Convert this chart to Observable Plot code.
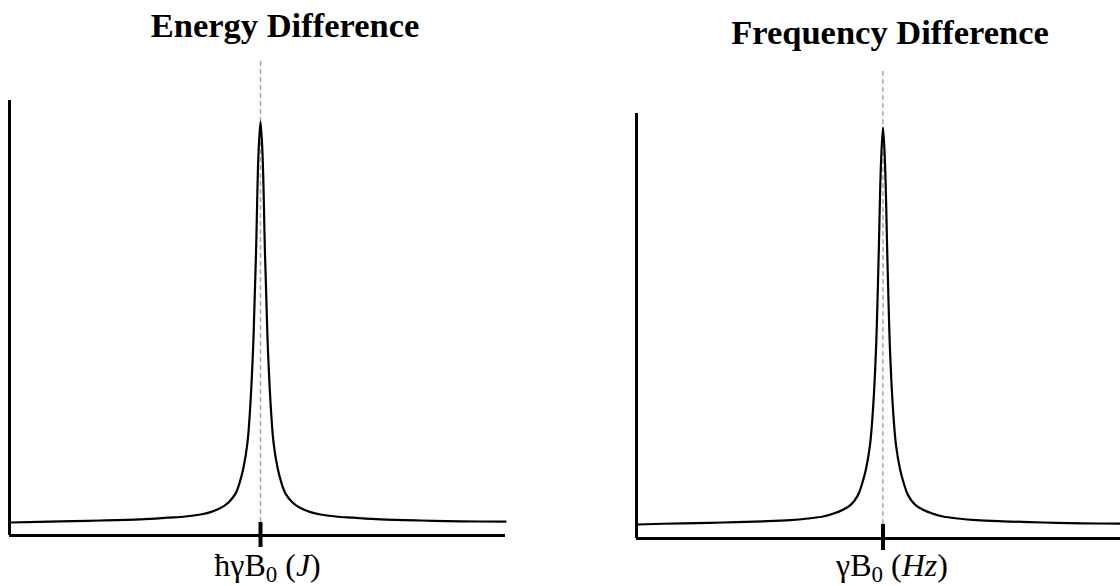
<!DOCTYPE html>
<html>
<head>
<meta charset="utf-8">
<script src="https://cdn.jsdelivr.net/npm/d3@7"></script>
<script src="https://cdn.jsdelivr.net/npm/@observablehq/plot@0.6"></script>
<style>
  html, body { margin: 0; padding: 0; background: #fff; }
  #wrap { position: relative; width: 1120px; height: 586px; overflow: hidden; background: #fff; }
  #wrap svg { position: absolute; top: 0; }
  .title { position: absolute; transform: translateX(-50%); white-space: nowrap;
           font-family: "Liberation Serif", "Times New Roman", serif; font-weight: bold;
           font-size: 34.5px; line-height: 34px; color: #000; }
</style>
</head>
<body>
<div id="wrap"></div>
<script>
// ---- data ----
const titles = ["Energy Difference", "Frequency Difference"];

// left panel: field offset (arbitrary units) and relative signal
const leftX = [-5.02, -4.0, -3.2, -2.4, -1.86, -1.5, -1.2, -1.0, -0.8, -0.64, -0.5, -0.42, -0.34, -0.26, -0.2, -0.14, -0.09, -0.04, 0,
               0.04, 0.09, 0.14, 0.2, 0.26, 0.34, 0.42, 0.5, 0.64, 0.8, 1.0, 1.2, 1.5, 1.86, 2.4, 3.2, 4.0, 4.9];
const leftY = [0.000, 0.003, 0.005, 0.008, 0.012, 0.015, 0.020, 0.026, 0.036, 0.050, 0.072, 0.098, 0.137, 0.200, 0.300, 0.460, 0.670, 0.920, 1.000,
               0.920, 0.670, 0.460, 0.300, 0.200, 0.137, 0.098, 0.072, 0.050, 0.036, 0.026, 0.020, 0.015, 0.012, 0.008, 0.005, 0.003, 0.002];

// right panel
const rightX = [-4.93, -4.0, -3.2, -2.4, -1.86, -1.5, -1.2, -1.0, -0.8, -0.64, -0.5, -0.42, -0.34, -0.26, -0.2, -0.14, -0.09, -0.04, 0,
                0.04, 0.09, 0.14, 0.2, 0.26, 0.34, 0.42, 0.5, 0.64, 0.8, 1.0, 1.2, 1.5, 1.86, 2.4, 3.2, 4.0, 4.75];
const rightY = [0.000, 0.003, 0.005, 0.008, 0.011, 0.015, 0.020, 0.027, 0.037, 0.050, 0.074, 0.102, 0.140, 0.200, 0.290, 0.440, 0.660, 0.910, 1.000,
                0.910, 0.660, 0.440, 0.290, 0.200, 0.140, 0.102, 0.074, 0.050, 0.037, 0.027, 0.020, 0.015, 0.011, 0.008, 0.005, 0.003, 0.002];

// tick labels (parts: main, subscript, open, italic unit, close)
const leftTickLabel = ["ħγB", "0", " (", "J", ")"];
const rightTickLabel = ["γB", "0", " (", "Hz", ")"];
const centerTick = [0];

// ---- scale setup ----
const panels = [
  { xs: leftX, ys: leftY, parts: leftTickLabel, title: titles[0],
    left: 0, xDomain: [-5.02, 4.9], yDomain: [-0.0324, 1.1546], yAxisTop: 1.0524,
    margins: { marginLeft: 9, marginRight: 55, marginTop: 59, marginBottom: 51 },
    tickPad: 6, labelDx: 7, titleX: 285, titleTop: 7.5 },
  { xs: rightX, ys: rightY, parts: rightTickLabel, title: titles[1],
    left: 560, xDomain: [-4.93, 4.75], yDomain: [-0.0353, 1.1486], yAxisTop: 1.0353,
    margins: { marginLeft: 76, marginRight: 0, marginTop: 68, marginBottom: 48 },
    tickPad: 3, labelDx: 9, titleX: 890, titleTop: 15 }
];

const wrap = document.getElementById("wrap");
const ns = "http://www.w3.org/2000/svg";

for (const p of panels) {
  const data = p.xs.map((x, i) => ({ x, y: p.ys[i] }));
  const svg = Plot.plot({
    width: 560, height: 586, ...p.margins,
    x: { domain: p.xDomain },
    y: { domain: p.yDomain, axis: null },
    style: { fontFamily: "'Liberation Serif', 'Times New Roman', serif", color: "black", background: "transparent", overflow: "visible" },
    marks: [
      Plot.ruleX(centerTick, { y1: 0, y2: p.yDomain[1], stroke: "#a6a6a6", strokeWidth: 1.5, strokeDasharray: "5,3" }),
      Plot.ruleY([p.yDomain[0]], { x1: p.xDomain[0], x2: p.xDomain[1], stroke: "black", strokeWidth: 3 }),
      Plot.ruleX([p.xDomain[0]], { y1: p.yDomain[0], y2: p.yAxisTop, stroke: "black", strokeWidth: 3 }),
      Plot.lineY(data, { x: "x", y: "y", curve: "catmull-rom", stroke: "black", strokeWidth: 2.2 }),
      Plot.ruleX(centerTick, { y1: 0, y2: p.yDomain[0], stroke: "black", strokeWidth: 4 }),
      Plot.axisX(centerTick, { tickSize: 12, tickPadding: p.tickPad, strokeWidth: 4, stroke: "black",
        fontSize: 32, label: null, tickFormat: () => p.parts.join("") })
    ]
  });
  svg.style.left = p.left + "px";
  // rich tick label: subscript and italic unit
  svg.querySelectorAll('g[aria-label="x-axis tick label"] text').forEach(t => {
    t.textContent = "";
    p.parts.forEach((s, i) => {
      const ts = document.createElementNS(ns, "tspan");
      ts.textContent = s;
      if (i === 1) { ts.setAttribute("font-size", "23"); ts.setAttribute("dy", "6"); }
      if (i === 2) { ts.setAttribute("dy", "-6"); }
      if (i === 3) { ts.setAttribute("font-style", "italic"); }
      t.appendChild(ts);
    });
    const tr = t.getAttribute("transform") || "";
    t.setAttribute("transform", tr + ` translate(${p.labelDx},0)`);
    t.setAttribute("fill", "black");
  });
  wrap.appendChild(svg);

  const title = document.createElement("div");
  title.className = "title";
  title.textContent = p.title;
  title.style.left = p.titleX + "px";
  title.style.top = p.titleTop + "px";
  wrap.appendChild(title);
}
</script>
</body>
</html>
